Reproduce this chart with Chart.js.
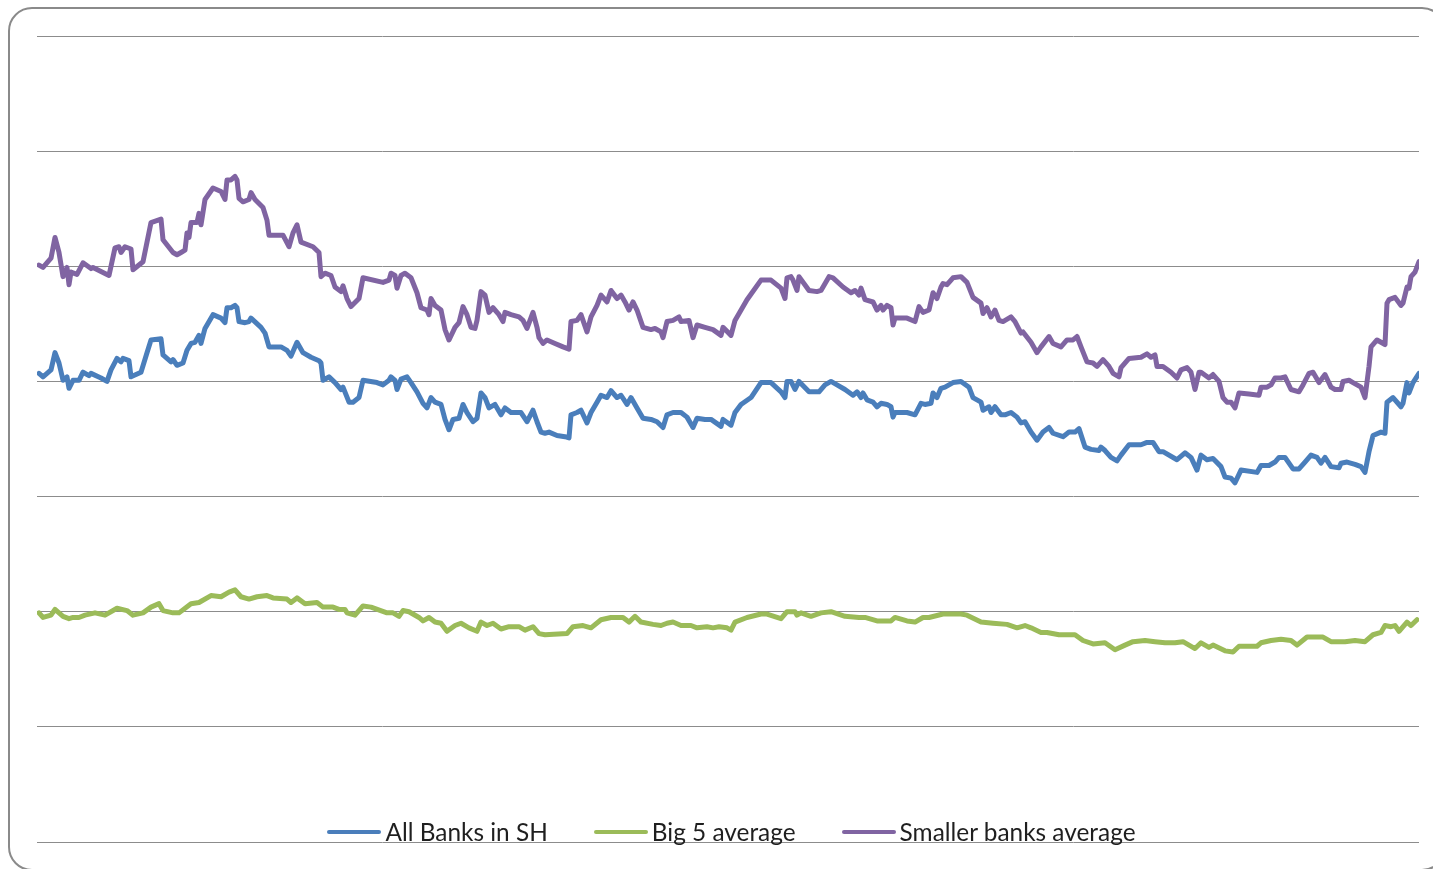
<!DOCTYPE html>
<html>
<head>
<meta charset="utf-8">
<script src="https://cdn.jsdelivr.net/npm/chart.js@4.4.1/dist/chart.umd.min.js"></script>
<style>
    html, body { margin: 0; padding: 0; background: #fff; overflow: hidden; }
    #wrap { position: relative; width: 1433px; height: 869px; overflow: hidden; }
    #frame {
        position: absolute; left: 8px; top: 7px; width: 1434px; height: 860px;
        border: 2px solid #8a8a8a; border-radius: 24px;
    }
    #grafico { position: absolute; left: 0; top: 0; }
    #legenda {
        position: absolute; left: 0; top: 818px; width: 1463px;
        display: flex; justify-content: center; gap: 46px;
        font-family: Lato, "Open Sans", sans-serif; font-size: 24.4px; color: #1f1f1f;
        line-height: 28px;
    }
    .item { display: flex; align-items: center; }
    .traco { width: 54px; height: 4px; border-radius: 2px; margin-right: 4px; }
</style>
</head>
<body>
<div id="wrap">
    <div id="frame"></div>
    <canvas id="grafico" width="1433" height="869"></canvas>
    <div id="legenda"></div>
</div>
<script>
// x = trading day index, y = value (gridline every 1.0)
const diasTodos = [1,3,7,9,11,13,15,16,18,21,23,26,27,32,35,37,40,42,43,46,47,52,55,57,62,63,67,68,70,73,75,77,79,81,82,84,88,92,94,95,97,99,100,101,104,106,107,112,114,116,122,125,127,130,133,137,141,142,143,146,149,152,153,156,158,161,163,170,173,176,177,179,180,182,185,187,190,193,195,197,199,202,204,206,208,211,213,215,218,220,222,224,226,229,232,234,237,242,245,248,250,252,254,256,260,264,266,267,270,272,275,277,280,282,285,287,290,292,295,297,300,303,307,310,313,315,318,322,325,328,330,334,337,342,343,347,349,352,357,362,367,372,374,375,377,379,381,386,391,394,397,400,404,408,410,412,413,415,418,420,422,425,427,428,429,435,439,442,444,447,448,450,452,454,458,462,466,468,472,473,476,477,479,482,484,487,490,492,494,497,500,503,506,508,513,516,519,521,524,527,531,532,534,537,540,542,546,552,555,558,561,563,570,574,577,580,582,585,588,592,594,597,599,602,610,612,616,619,621,624,628,631,634,637,640,642,644,647,651,652,655,659,662,664,666,668,672,674,675,678,682,683,685,686,688,691];
const valoresTodos = [4.07,4.04,4.10,4.25,4.16,4.01,4.04,3.94,4.01,4.01,4.08,4.05,4.07,4.03,4.00,4.10,4.20,4.17,4.20,4.18,4.04,4.08,4.25,4.36,4.37,4.23,4.17,4.19,4.14,4.16,4.27,4.33,4.34,4.40,4.33,4.46,4.58,4.55,4.51,4.64,4.64,4.66,4.64,4.52,4.51,4.52,4.55,4.47,4.42,4.30,4.30,4.27,4.22,4.34,4.25,4.21,4.18,4.16,4.01,4.04,3.99,3.93,3.95,3.82,3.82,3.86,4.01,3.99,3.97,4.01,4.04,4.01,3.93,4.02,4.04,3.99,3.91,3.81,3.77,3.86,3.82,3.80,3.67,3.58,3.67,3.68,3.80,3.73,3.65,3.68,3.90,3.86,3.77,3.80,3.71,3.77,3.73,3.73,3.65,3.75,3.65,3.56,3.55,3.56,3.53,3.52,3.51,3.71,3.73,3.75,3.64,3.73,3.82,3.88,3.86,3.92,3.86,3.88,3.80,3.86,3.77,3.68,3.67,3.65,3.60,3.71,3.73,3.73,3.69,3.60,3.68,3.67,3.67,3.61,3.67,3.62,3.73,3.80,3.86,3.99,3.99,3.91,3.86,4.00,4.00,3.93,4.00,3.91,3.91,3.97,4.00,3.97,3.93,3.88,3.91,3.86,3.90,3.84,3.82,3.78,3.81,3.80,3.78,3.69,3.73,3.73,3.71,3.81,3.80,3.81,3.90,3.86,3.94,3.95,3.99,4.00,3.95,3.86,3.82,3.75,3.78,3.73,3.78,3.71,3.71,3.73,3.69,3.64,3.65,3.56,3.49,3.56,3.60,3.55,3.52,3.56,3.56,3.59,3.43,3.41,3.40,3.43,3.40,3.34,3.31,3.36,3.45,3.45,3.47,3.47,3.39,3.39,3.32,3.38,3.34,3.23,3.36,3.32,3.33,3.26,3.17,3.16,3.12,3.23,3.21,3.27,3.27,3.30,3.34,3.34,3.24,3.24,3.30,3.36,3.34,3.29,3.34,3.26,3.25,3.29,3.30,3.28,3.26,3.21,3.39,3.53,3.56,3.55,3.82,3.86,3.78,3.81,3.99,3.90,3.99,4.07];

const diasBig5 = [1,3,7,9,13,16,18,21,24,29,34,40,45,48,53,57,61,63,68,71,77,81,87,92,96,99,102,106,110,115,118,125,127,130,134,140,143,148,151,154,155,159,163,167,175,178,181,183,186,191,193,196,199,202,205,209,212,216,220,222,225,228,232,236,241,244,248,251,254,265,268,273,277,282,287,290,293,296,299,302,308,312,315,318,322,327,330,335,338,341,345,347,349,355,362,365,372,375,379,380,382,387,392,397,404,411,414,420,427,429,435,439,443,446,453,462,465,472,478,485,490,494,497,502,505,511,519,523,528,534,539,544,548,554,559,564,569,573,579,582,586,588,594,598,601,610,612,617,622,627,630,635,643,647,654,659,664,668,672,674,677,679,681,685,687,690];
const valoresBig5 = [1.99,1.95,1.97,2.02,1.96,1.94,1.95,1.95,1.97,1.99,1.97,2.03,2.01,1.97,1.99,2.04,2.07,2.01,1.99,1.99,2.07,2.08,2.14,2.13,2.17,2.19,2.13,2.11,2.13,2.14,2.12,2.11,2.08,2.12,2.07,2.08,2.04,2.04,2.02,2.02,1.99,1.97,2.05,2.04,1.99,1.99,1.96,2.01,2.00,1.95,1.92,1.95,1.91,1.90,1.83,1.88,1.90,1.86,1.83,1.91,1.88,1.90,1.85,1.87,1.87,1.84,1.87,1.81,1.80,1.81,1.87,1.88,1.86,1.93,1.95,1.95,1.95,1.91,1.96,1.91,1.89,1.88,1.90,1.91,1.88,1.88,1.86,1.87,1.86,1.87,1.86,1.84,1.91,1.95,1.98,1.98,1.94,2.00,2.00,1.97,1.99,1.96,1.99,2.00,1.96,1.95,1.95,1.92,1.92,1.95,1.92,1.91,1.95,1.95,1.98,1.98,1.97,1.91,1.90,1.89,1.86,1.88,1.86,1.82,1.82,1.80,1.80,1.75,1.72,1.73,1.67,1.71,1.74,1.75,1.74,1.73,1.73,1.74,1.68,1.73,1.69,1.71,1.66,1.65,1.70,1.70,1.73,1.75,1.76,1.75,1.71,1.78,1.78,1.74,1.74,1.75,1.74,1.80,1.82,1.88,1.87,1.88,1.83,1.91,1.88,1.93];

const diasMenores = [1,3,7,9,11,13,15,16,17,20,23,27,28,36,39,41,42,44,47,48,53,57,62,63,68,70,72,74,75,76,77,80,81,82,84,88,92,94,95,97,99,100,101,103,106,107,109,113,115,116,123,126,128,130,132,138,141,142,144,147,149,152,153,155,157,161,163,173,176,177,179,180,182,184,187,190,192,195,196,197,199,202,204,206,209,211,213,215,217,219,220,222,224,226,228,231,233,234,237,241,243,245,248,250,251,253,255,259,263,266,267,270,272,275,277,280,282,285,287,290,292,294,296,298,300,303,307,309,312,313,315,318,321,322,326,328,330,334,338,342,343,347,349,355,362,367,372,374,375,377,378,380,381,386,390,392,396,398,403,407,409,411,412,414,418,420,422,423,425,427,428,429,435,439,441,443,446,448,450,452,453,455,458,462,465,468,472,473,475,477,479,481,483,487,489,492,493,497,500,502,506,508,512,515,518,520,522,525,528,530,532,533,536,538,541,542,546,552,555,557,559,560,563,567,570,572,575,577,579,581,582,586,588,591,593,595,597,599,601,606,611,612,615,617,619,622,624,627,631,633,636,638,641,644,647,649,652,653,656,658,662,664,666,667,670,672,674,675,676,679,682,683,685,686,687,689,691];
const valoresMenores = [5.01,4.99,5.07,5.25,5.12,4.91,4.99,4.84,4.95,4.93,5.03,4.98,4.99,4.92,5.16,5.17,5.12,5.17,5.15,4.97,5.04,5.38,5.41,5.23,5.12,5.10,5.12,5.14,5.29,5.25,5.38,5.38,5.46,5.36,5.58,5.68,5.65,5.58,5.75,5.75,5.78,5.75,5.59,5.56,5.58,5.64,5.58,5.51,5.40,5.27,5.27,5.17,5.29,5.36,5.21,5.17,5.12,4.91,4.94,4.92,4.82,4.78,4.83,4.72,4.65,4.72,4.90,4.86,4.88,4.94,4.92,4.81,4.92,4.94,4.90,4.77,4.64,4.62,4.58,4.72,4.66,4.62,4.45,4.36,4.47,4.51,4.65,4.58,4.47,4.46,4.53,4.78,4.75,4.60,4.64,4.58,4.52,4.60,4.58,4.56,4.53,4.46,4.60,4.47,4.38,4.33,4.36,4.33,4.30,4.28,4.52,4.53,4.58,4.43,4.56,4.66,4.75,4.69,4.79,4.72,4.75,4.69,4.62,4.69,4.62,4.47,4.45,4.46,4.43,4.38,4.52,4.53,4.56,4.52,4.53,4.38,4.49,4.47,4.45,4.40,4.47,4.40,4.53,4.71,4.88,4.88,4.81,4.72,4.90,4.91,4.88,4.79,4.91,4.79,4.78,4.79,4.91,4.90,4.82,4.77,4.79,4.75,4.81,4.71,4.69,4.62,4.66,4.62,4.66,4.64,4.49,4.55,4.55,4.52,4.65,4.60,4.62,4.77,4.72,4.82,4.85,4.84,4.90,4.91,4.86,4.73,4.68,4.59,4.64,4.56,4.62,4.53,4.52,4.56,4.52,4.42,4.43,4.34,4.25,4.30,4.39,4.33,4.30,4.36,4.36,4.39,4.30,4.17,4.16,4.13,4.17,4.19,4.13,4.07,4.04,4.12,4.20,4.21,4.24,4.21,4.23,4.13,4.13,4.08,4.03,4.10,4.12,4.08,3.93,4.08,4.08,4.03,4.06,4.00,3.86,3.82,3.82,3.77,3.90,3.89,3.88,3.95,3.95,3.97,4.03,4.03,4.04,3.93,3.91,3.97,4.07,4.08,3.99,4.06,3.95,3.93,3.93,4.00,4.01,3.99,3.95,3.86,4.13,4.30,4.36,4.34,4.32,4.68,4.71,4.73,4.66,4.68,4.82,4.81,4.91,4.95,5.04];

const nomesSeries = ['All Banks in SH', 'Big 5 average', 'Smaller banks average'];
const coresSeries = ['#4a7ebb', '#9bbb59', '#8064a2'];

function pares(dias, valores) {
    return dias.map((d, i) => ({ x: d, y: valores[i] }));
}

const conjuntos = [
    pares(diasTodos, valoresTodos),
    pares(diasBig5, valoresBig5),
    pares(diasMenores, valoresMenores)
];

const ctx = document.getElementById('grafico').getContext('2d');

const grafico = new Chart(ctx, {
    type: 'line',
    data: {
        datasets: nomesSeries.map((nome, i) => ({
            label: nome,
            data: conjuntos[i],
            borderColor: coresSeries[i],
            backgroundColor: coresSeries[i],
            borderWidth: 5,
            pointRadius: 0,
            tension: 0,
            borderJoinStyle: 'round',
            borderCapStyle: 'round'
        }))
    },
    options: {
        responsive: false,
        animation: false,
        layout: { padding: { left: 37, top: 36, right: 14, bottom: 27 } },
        plugins: { legend: { display: false }, tooltip: { enabled: false } },
        scales: {
            x: { type: 'linear', min: 0, max: 691, display: false },
            y: {
                min: 0, max: 7,
                ticks: { display: false, stepSize: 1 },
                grid: { color: '#8c8c8c', lineWidth: 1, drawTicks: false },
                border: { display: false }
            }
        }
    }
});

// legenda em HTML, montada a partir dos datasets
const legenda = document.getElementById('legenda');
grafico.data.datasets.forEach(ds => {
    const item = document.createElement('div');
    item.className = 'item';
    const traco = document.createElement('span');
    traco.className = 'traco';
    traco.style.background = ds.borderColor;
    const texto = document.createElement('span');
    texto.textContent = ds.label;
    item.appendChild(traco);
    item.appendChild(texto);
    legenda.appendChild(item);
});
</script>
</body>
</html>
